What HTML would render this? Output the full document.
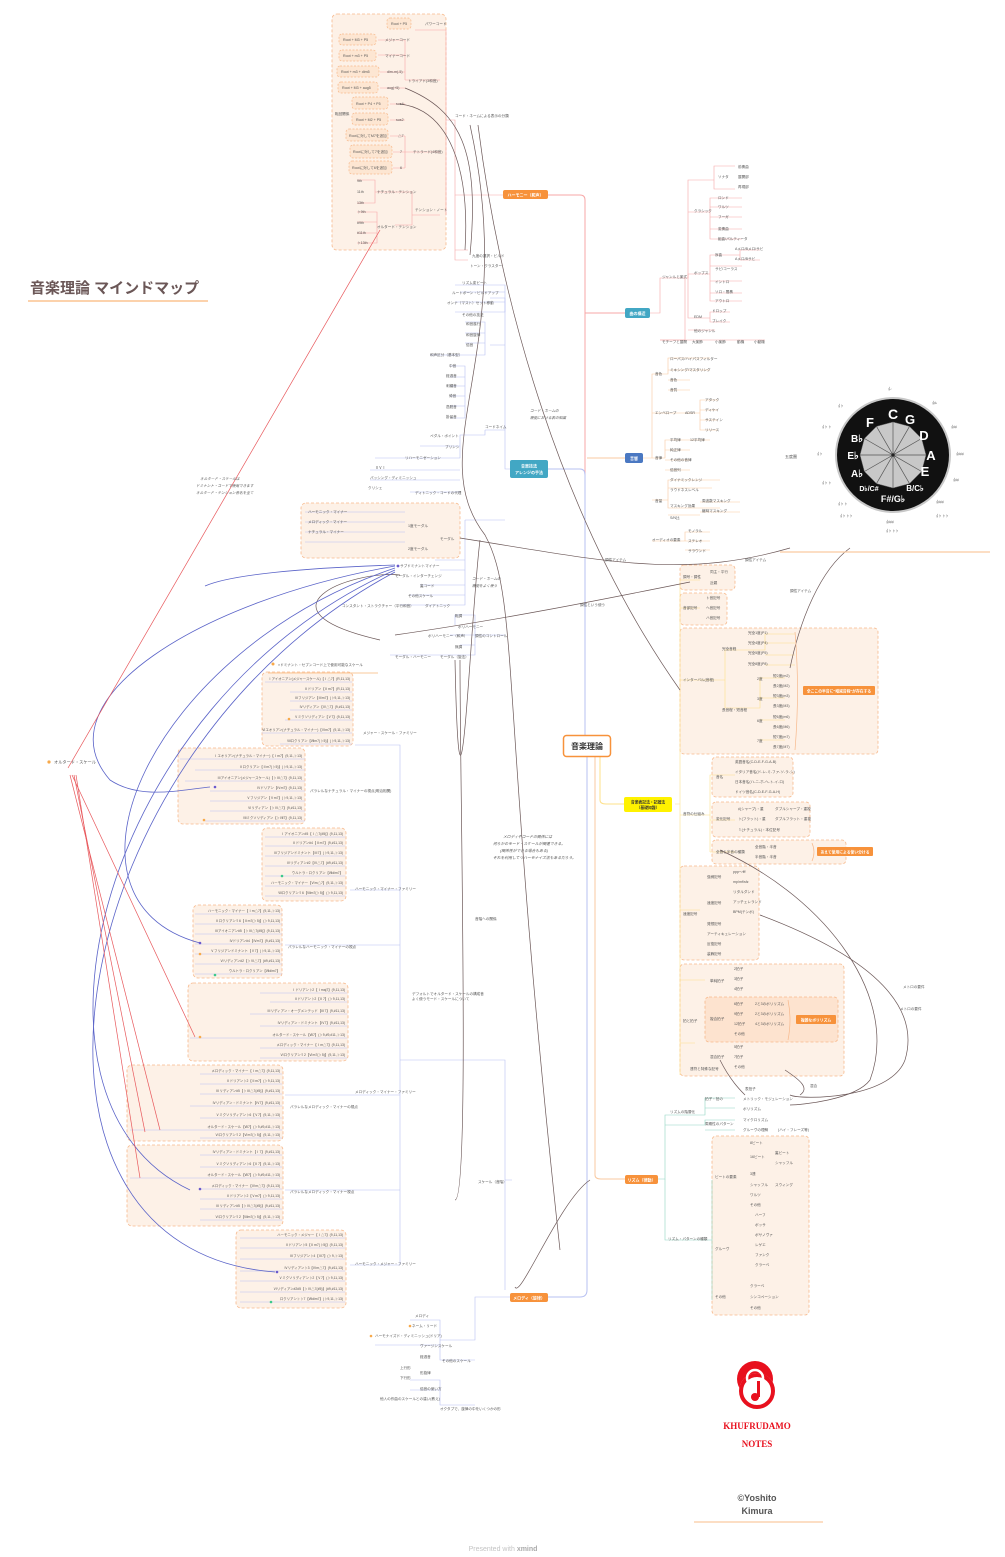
<!DOCTYPE html>
<html><head><meta charset="utf-8">
<style>
html,body{margin:0;padding:0;background:#fff;}
body{width:1005px;height:1557px;position:relative;overflow:hidden;font-family:"Liberation Sans","Noto Sans CJK JP",sans-serif;}
svg{position:absolute;left:0;top:0;}
.t{font-family:"Liberation Sans","Noto Sans CJK JP",sans-serif;font-size:3.6px;fill:#555;}
.r{font-family:"Liberation Sans","Noto Sans CJK JP",sans-serif;font-size:3.4px;fill:#555;text-anchor:end;}
</style></head><body>
<svg width="1005" height="1557" viewBox="0 0 1005 1557" xmlns="http://www.w3.org/2000/svg">
<g fill="#fdf1e7" stroke="#f7b98c" stroke-width="0.8" stroke-dasharray="3,2">
<rect x="332" y="14" width="114" height="236" rx="5"/>
<rect x="301" y="503" width="159" height="55" rx="5"/>
<rect x="262" y="672" width="91" height="74" rx="5"/>
<rect x="178" y="748" width="127" height="76" rx="5"/>
<rect x="262" y="828" width="84" height="73" rx="5"/>
<rect x="193" y="905" width="89" height="73" rx="5"/>
<rect x="188" y="983" width="160" height="78" rx="5"/>
<rect x="127" y="1065" width="156" height="76" rx="5"/>
<rect x="127" y="1145" width="156" height="81" rx="5"/>
<rect x="236" y="1230" width="110" height="78" rx="5"/>
<rect x="680" y="565" width="55" height="25" rx="4"/>
<rect x="680" y="593" width="47" height="32" rx="4"/>
<rect x="680" y="628" width="198" height="126" rx="4"/>
<rect x="712" y="757" width="81" height="40" rx="4"/>
<rect x="712" y="802" width="98" height="35" rx="4"/>
<rect x="712" y="840" width="134" height="24" rx="4"/>
<rect x="680" y="866" width="79" height="94" rx="4"/>
<rect x="680" y="964" width="164" height="112" rx="4"/>
<rect x="705" y="997" width="133" height="45" rx="4" fill="#fde3cf"/>
<rect x="712" y="1136" width="97" height="179" rx="4"/>
</g>
<g fill="#fde6d2" stroke="#f7b98c" stroke-width="0.7" stroke-dasharray="2,1.5">
<rect x="387" y="18" width="24" height="11" rx="3"/>
<rect x="339" y="34" width="37" height="11" rx="3"/>
<rect x="339" y="50" width="37" height="11" rx="3"/>
<rect x="337" y="66" width="42" height="11" rx="3"/>
<rect x="338" y="82" width="40" height="11" rx="3"/>
<rect x="352" y="97" width="36" height="12" rx="3"/>
<rect x="352" y="113" width="36" height="12" rx="3"/>
<rect x="346" y="129" width="42" height="12" rx="3"/>
<rect x="350" y="145" width="42" height="13" rx="3"/>
<rect x="349" y="161" width="43" height="13" rx="3"/>
</g>
<g fill="none" stroke-width="1">
<path d="M548,195 H580 Q585,195 585,200 V740" stroke="#f7a7a7"/>
<path d="M585,313 H625" stroke="#f7a7a7"/>
<path d="M587,458 H625" stroke="#f9c9a0"/>
<path d="M548,469 H580 Q585,469 585,475 V740" stroke="#b7c0f2"/>
<path d="M587,756 V1290 Q587,1297 580,1297 H548" stroke="#b7c0f2"/>
<path d="M600,756 V800 Q600,804 606,804 H624" stroke="#fde08a"/>
<path d="M595,756 V1175 Q595,1179 601,1179 H625" stroke="#f9c9a0"/>
</g>
<g fill="none" stroke="#f7a7a7" stroke-width="0.6">
<path d="M503,195 H455 V120 H446"/>
<path d="M446,120 V30 H415"/><path d="M446,120 V215"/>
<path d="M405,80 V40 H378 M405,55 H378 M405,72 H380 M405,88 H380 M405,80 H440"/>
<path d="M405,104 H390 M405,120 H390 M405,136 H390 M405,152 H393 M405,168 H393 M405,136 V168 M405,152 H440"/>
<path d="M412,215 H440 M412,215 V192 H385 M412,215 V225 H395"/>
<path d="M375,192 V180 H357 M375,192 V203 H357 M375,192 H385"/>
<path d="M377,226 V212 H357 M377,226 V243 H357 M357,222 H377 M357,233 H377"/>
<path d="M455,195 V260 H468 M455,250 H468"/>
</g>
<g fill="none" stroke="#f7a7a7" stroke-width="0.6">
<path d="M650,313 H660 V278 H685 V340 H660"/>
<path d="M685,278 H688 V212 H710 M688,212 V180 H714 V166 H735 M714,180 V189 H735 M714,180 V176"/>
<path d="M710,212 V198 H742 M710,212 V207 H742 M710,212 V217 H742 M710,212 V229 H742 M710,212 V239 H742"/>
<path d="M688,278 V274 H710 M710,274 V255 H740 M710,274 V266 H742 M710,274 V281 H742 M710,274 V293 H742 M710,274 V301 H742 M740,255 V250 H760 M740,255 V260 H760"/>
<path d="M688,278 V318 H710 V312 H730 M710,318 V322 H730 M688,330 H715"/>
<path d="M660,340 H765"/>
</g>
<g fill="none" stroke="#f9c9a0" stroke-width="0.6">
<path d="M643,458 H652 V374 H668 V358 H710 M668,370 H710 M668,380 H690 M668,390 H690"/>
<path d="M652,413 H700 M700,413 V400 H718 M700,413 V410 H718 M700,413 V420 H718 M700,413 V430 H718"/>
<path d="M652,458 H665 V440 H710 M665,450 H690 M665,460 H690 M665,470 H690"/>
<path d="M652,500 H668 V480 H720 M668,488 H712 M668,498 V508 H720 M668,515 H700 M700,502 H740 M700,512 H740"/>
<path d="M652,541 H685 V532 H710 M685,541 H710 M685,550 H710"/>
</g>
<g fill="none" stroke="#fde08a" stroke-width="0.6">
<path d="M675,804 H680 V580 H700 M680,608 H700 M680,680 H725 M680,804 V1075"/>
<path d="M680,815 H710 V775 H735 M710,820 H735 M710,852 H735 M710,775 V852"/>
<path d="M680,910 H700 M680,1043 H695 M680,980 H705"/>
<path d="M725,680 V650 H765 V634 H795 M765,643 H795 M765,655 H795 M765,665 H795"/>
<path d="M725,680 V708 H760 V678 H785 M760,698 H785 M760,720 H785 M760,740 H785"/>
</g>
<g fill="none" stroke="#8fd6c2" stroke-width="0.6">
<path d="M625,1179 H665 V1115 H705 V1098 H735 M705,1108 H735"/>
<path d="M665,1125 H705 V1120 H735 M705,1130 H735"/>
<path d="M665,1179 V1240 H712 M712,1180 V1300"/>
</g>
<g fill="none" stroke="#b7c0f2" stroke-width="0.6">
<path d="M510,469 H505 V298 H490 M505,345 H490 M505,430 H485 M505,520 H465 M505,635 H475"/>
<path d="M505,298 V285 H455 M505,298 V292 H460 M505,298 V302 H455 M505,298 V312 H455"/>
<path d="M485,345 V322 H465 M485,345 V333 H465 M485,345 V343 H465 M485,345 V355 H430"/>
<path d="M465,388 V366 H450 M465,388 V377 H450 M465,388 V386 H450 M465,388 V396 H450 M465,388 V406 H450 M465,388 V418 H450"/>
<path d="M485,430 V435 H460 V446 H420 M460,435 V458 H375 M460,470 H370 M460,480 H370 M460,492 H410"/>
<path d="M465,520 V560 H435 M465,520 V570 H440 M465,520 V585 H420 M465,520 V595 H410 M465,520 V605 H400"/>
<path d="M475,635 H450 M475,635 V615 H455 V625 H455 M475,635 V645 H460 M475,635 V655 H390"/>
<path d="M512,1180 H505 V1290 M505,1180 V1060 H400 V745 H355 M400,890 H350 M400,945 H285 M400,1095 H285 M400,1190 H285 M400,1265 H350 M400,1060 V1265"/>
<path d="M510,1297 H475 V1340 H440 M475,1360 H440 V1320 H410 M475,1405 H440 V1380 H410 M440,1345 H375 M440,1390 H410"/>
</g>
<g stroke="#b7c0f2" stroke-width="0.5">
<line x1="265" y1="682" x2="352" y2="682"/><line x1="290" y1="692" x2="352" y2="692"/><line x1="290" y1="701" x2="352" y2="701"/><line x1="290" y1="710" x2="352" y2="710"/><line x1="285" y1="720" x2="352" y2="720"/><line x1="262" y1="733" x2="352" y2="733"/><line x1="280" y1="744" x2="352" y2="744"/>
<line x1="180" y1="759" x2="305" y2="759"/><line x1="195" y1="770" x2="305" y2="770"/><line x1="185" y1="781" x2="305" y2="781"/><line x1="210" y1="791" x2="305" y2="791"/><line x1="210" y1="801" x2="305" y2="801"/><line x1="210" y1="811" x2="305" y2="811"/><line x1="205" y1="821" x2="305" y2="821"/>
<line x1="265" y1="837" x2="345" y2="837"/><line x1="265" y1="846" x2="345" y2="846"/><line x1="265" y1="856" x2="345" y2="856"/><line x1="265" y1="866" x2="345" y2="866"/><line x1="265" y1="876" x2="345" y2="876"/><line x1="265" y1="886" x2="345" y2="886"/><line x1="265" y1="896" x2="345" y2="896"/>
<line x1="195" y1="914" x2="282" y2="914"/><line x1="195" y1="924" x2="282" y2="924"/><line x1="195" y1="934" x2="282" y2="934"/><line x1="195" y1="944" x2="282" y2="944"/><line x1="195" y1="954" x2="282" y2="954"/><line x1="195" y1="964" x2="282" y2="964"/><line x1="195" y1="974" x2="282" y2="974"/>
<line x1="260" y1="993" x2="347" y2="993"/><line x1="270" y1="1002" x2="347" y2="1002"/><line x1="250" y1="1014" x2="347" y2="1014"/><line x1="260" y1="1026" x2="347" y2="1026"/><line x1="190" y1="1038" x2="347" y2="1038"/><line x1="260" y1="1048" x2="347" y2="1048"/><line x1="260" y1="1058" x2="347" y2="1058"/>
<line x1="200" y1="1074" x2="282" y2="1074"/><line x1="200" y1="1084" x2="282" y2="1084"/><line x1="200" y1="1094" x2="282" y2="1094"/><line x1="190" y1="1106" x2="282" y2="1106"/><line x1="200" y1="1118" x2="282" y2="1118"/><line x1="130" y1="1130" x2="282" y2="1130"/><line x1="200" y1="1138" x2="282" y2="1138"/>
<line x1="200" y1="1155" x2="282" y2="1155"/><line x1="200" y1="1167" x2="282" y2="1167"/><line x1="130" y1="1178" x2="282" y2="1178"/><line x1="200" y1="1189" x2="282" y2="1189"/><line x1="200" y1="1199" x2="282" y2="1199"/><line x1="200" y1="1209" x2="282" y2="1209"/><line x1="200" y1="1220" x2="282" y2="1220"/>
<line x1="240" y1="1238" x2="345" y2="1238"/><line x1="240" y1="1248" x2="345" y2="1248"/><line x1="240" y1="1259" x2="345" y2="1259"/><line x1="240" y1="1271" x2="345" y2="1271"/><line x1="240" y1="1281" x2="345" y2="1281"/><line x1="240" y1="1292" x2="345" y2="1292"/><line x1="240" y1="1302" x2="345" y2="1302"/>
<line x1="305" y1="512" x2="370" y2="512"/><line x1="305" y1="522" x2="370" y2="522"/><line x1="305" y1="532" x2="370" y2="532"/><line x1="305" y1="542" x2="370" y2="542"/><line x1="370" y1="512" x2="405" y2="512"/><line x1="370" y1="522" x2="405" y2="522"/><line x1="370" y1="532" x2="405" y2="532"/><line x1="370" y1="542" x2="405" y2="542"/>
</g>
<!-- left box row texts -->
<g class="r">
<text x="350" y="680">Ⅰアイオニアン(メジャースケール)【Ⅰ△7】(R,11,13)</text><text x="350" y="690">Ⅱドリアン【Ⅱm7】(R,11,13)</text><text x="350" y="699">Ⅲフリジアン【Ⅲm7】(♭9,11,♭13)</text><text x="350" y="708">Ⅳリディアン【Ⅳ△7】(9,#11,13)</text><text x="350" y="718">Ⅴミクソリディアン【Ⅴ7】(9,11,13)</text><text x="350" y="731">Ⅵエオリアン(ナチュラル・マイナー)【Ⅵm7】(9,11,♭13)</text><text x="350" y="742">Ⅶロクリアン【Ⅶm7(♭5)】(♭9,11,♭13)</text>
<text x="302" y="757">Ⅰエオリアン(ナチュラル・マイナー)【Ⅰm7】(9,11,♭13)</text><text x="302" y="768">Ⅱロクリアン【Ⅱm7(♭5)】(♭9,11,♭13)</text><text x="302" y="779">Ⅲアイオニアン(メジャースケール)【♭Ⅲ△7】(9,11,13)</text><text x="302" y="789">Ⅳドリアン【Ⅳm7】(9,11,13)</text><text x="302" y="799">Ⅴフリジアン【Ⅴm7】(♭9,11,♭13)</text><text x="302" y="809">Ⅵリディアン【♭Ⅵ△7】(9,#11,13)</text><text x="302" y="819">Ⅶミクソリディアン【♭Ⅶ7】(9,11,13)</text>
<text x="343" y="835">Ⅰアイオニアン#5【Ⅰ△7(#5)】(9,11,13)</text><text x="343" y="844">Ⅱドリアン#4【Ⅱm7】(9,#11,13)</text><text x="343" y="854">Ⅲフリジアンドミナント【Ⅲ7】(♭9,11,♭13)</text><text x="343" y="864">Ⅳリディアン#2【Ⅳ△7】(#9,#11,13)</text><text x="343" y="874">ウルトラ・ロクリアン【Ⅶdim7】</text><text x="343" y="884">ハーモニック・マイナー【Ⅵm△7】(9,11,♭13)</text><text x="343" y="894">Ⅶロクリアン♮6【Ⅶm7(♭5)】(♭9,11,13)</text>
<text x="280" y="912">ハーモニック・マイナー【Ⅰm△7】(9,11,♭13)</text><text x="280" y="922">Ⅱロクリアン♮6【Ⅱm7(♭5)】(♭9,11,13)</text><text x="280" y="932">Ⅲアイオニアン#5【♭Ⅲ△7(#5)】(9,11,13)</text><text x="280" y="942">Ⅳドリアン#4【Ⅳm7】(9,#11,13)</text><text x="280" y="952">Ⅴフリジアンドミナント【Ⅴ7】(♭9,11,♭13)</text><text x="280" y="962">Ⅵリディアン#2【♭Ⅵ△7】(#9,#11,13)</text><text x="280" y="972">ウルトラ・ロクリアン【Ⅶdim7】</text>
<text x="345" y="991">Ⅰドリアン♭2【Ⅰmaj7】(9,11,13)</text><text x="345" y="1000">Ⅱドリアン♭2【Ⅱ7】(♭9,11,13)</text><text x="345" y="1012">Ⅲリディアン・オーグメンテッド【Ⅲ7】(9,#11,13)</text><text x="345" y="1024">Ⅳリディアン・ドミナント【Ⅳ7】(9,#11,13)</text><text x="345" y="1036">オルタード・スケール【Ⅶ7】(♭9,#9,#11,♭13)</text><text x="345" y="1046">メロディック・マイナー【Ⅰm△7】(9,11,13)</text><text x="345" y="1056">Ⅵロクリアン♮2【Ⅵm7(♭5)】(9,11,♭13)</text>
<text x="280" y="1072">メロディック・マイナー【Ⅰm△7】(9,11,13)</text><text x="280" y="1082">Ⅱドリアン♭2【Ⅱm7】(♭9,11,13)</text><text x="280" y="1092">Ⅲリディアン#5【♭Ⅲ△7(#5)】(9,#11,13)</text><text x="280" y="1104">Ⅳリディアン・ドミナント【Ⅳ7】(9,#11,13)</text><text x="280" y="1116">Ⅴミクソリディアン♭6【Ⅴ7】(9,11,♭13)</text><text x="280" y="1128">オルタード・スケール【Ⅶ7】(♭9,#9,#11,♭13)</text><text x="280" y="1136">Ⅵロクリアン♮2【Ⅵm7(♭5)】(9,11,♭13)</text>
<text x="280" y="1153">Ⅳリディアン・ドミナント【Ⅰ7】(9,#11,13)</text><text x="280" y="1165">Ⅴミクソリディアン♭6【Ⅱ7】(9,11,♭13)</text><text x="280" y="1176">オルタード・スケール【Ⅶ7】(♭9,#9,#11,♭13)</text><text x="280" y="1187">メロディック・マイナー【Ⅳm△7】(9,11,13)</text><text x="280" y="1197">Ⅱドリアン♭2【Ⅴm7】(♭9,11,13)</text><text x="280" y="1207">Ⅲリディアン#5【♭Ⅵ△7(#5)】(9,#11,13)</text><text x="280" y="1218">Ⅵロクリアン♮2【Ⅶm7(♭5)】(9,11,♭13)</text>
<text x="343" y="1236">ハーモニック・メジャー【Ⅰ△7】(9,11,13)</text><text x="343" y="1246">Ⅱドリアン♭5【Ⅱm7(♭5)】(9,11,13)</text><text x="343" y="1257">Ⅲフリジアン♭4【Ⅲ7】(♭9,♭13)</text><text x="343" y="1269">Ⅳリディアン♭3【Ⅳm△7】(9,#11,13)</text><text x="343" y="1279">Ⅴミクソリディアン♭2【Ⅴ7】(♭9,11,13)</text><text x="343" y="1290">Ⅵリディアン#2#5【♭Ⅵ△7(#5)】(#9,#11,13)</text><text x="343" y="1300">ロクリアン♭♭7【Ⅶdim7】(♭9,11,♭13)</text>
</g>
<g fill="none" stroke="#6b5757" stroke-width="0.7">
<path d="M478,125 C500,300 560,520 680,690"/>
<path d="M470,125 C520,350 420,450 485,535 C520,600 500,700 560,1250"/>
<path d="M405,88 C460,110 480,150 470,255"/>
<path d="M400,104 C450,110 470,170 465,250"/>
<path d="M460,538 C600,560 680,580 790,548"/>
<path d="M395,635 C500,620 600,600 690,582"/>
<path d="M380,640 C250,610 350,570 400,575 M480,540 C470,620 460,900 455,660"/>
<path d="M790,668 C800,620 820,570 850,548"/>
<path d="M760,915 C880,960 920,1010 905,1060 C890,1100 800,1100 790,1095"/>
<path d="M720,850 C830,900 900,1000 870,1080 C855,1100 800,1105 790,1105"/>
<path d="M785,1070 C800,1080 810,1088 800,1095 M720,1060 C730,1080 740,1090 745,1095"/>
<path d="M590,1180 C560,1200 520,1300 515,1287 M460,660 C460,800 470,1200 455,1200"/>
</g>
<g fill="none" stroke="#5a63c8" stroke-width="0.8">
<path d="M395,566 C200,600 40,700 110,780 C140,800 180,790 210,787"/>
<path d="M395,568 C150,650 40,900 200,943"/>
<path d="M395,570 C100,700 0,1100 190,1190"/>
<path d="M395,572 C60,750 -20,1250 275,1272"/>
<path d="M395,565 C300,568 230,575 205,586"/>
</g>
<g fill="none" stroke="#e8585c" stroke-width="0.7">
<path d="M68,768 L380,230"/>
<path d="M72,775 L195,1037"/>
<path d="M74,775 L145,1132"/>
<path d="M76,775 L140,1178"/>
<path d="M70,775 L160,1130"/>
</g>
<rect x="503" y="190" width="45" height="9" rx="2" fill="#f7923b"/>
<text x="525.5" y="196.5" fill="#fff" text-anchor="middle" style="font-size:4px;font-weight:bold">ハーモニー（和声）</text>
<rect x="625" y="308" width="25" height="10" rx="2" fill="#42a7c4"/>
<text x="637.5" y="315" text-anchor="middle" fill="#fff" style="font-size:4px;font-weight:bold">曲の構造</text>
<rect x="625" y="453" width="18" height="10" rx="2" fill="#4a78c2"/>
<text x="634" y="460" text-anchor="middle" fill="#fff" style="font-size:4px;font-weight:bold">音響</text>
<rect x="510" y="460" width="38" height="18" rx="2" fill="#42a7c4"/>
<text x="529" y="467.5" text-anchor="middle" fill="#fff" style="font-size:4px;font-weight:bold">音楽技法</text>
<text x="529" y="474" text-anchor="middle" fill="#fff" style="font-size:4px;font-weight:bold">アレンジの手法</text>
<rect x="563.5" y="735.5" width="47" height="21" rx="3" fill="#fff" stroke="#f7923b" stroke-width="1.5"/>
<text x="587" y="749" text-anchor="middle" fill="#333" style="font-size:8px;font-weight:bold">音楽理論</text>
<rect x="624" y="797" width="48" height="15" rx="2" fill="#fff200"/>
<text x="648" y="803.5" text-anchor="middle" fill="#333" style="font-size:3.8px;font-weight:bold">音楽表記法・記譜法</text>
<text x="648" y="809" text-anchor="middle" fill="#333" style="font-size:3.8px;font-weight:bold">（基礎知識）</text>
<rect x="625" y="1175" width="33" height="9" rx="2" fill="#f7923b"/>
<text x="641.5" y="1181.5" text-anchor="middle" fill="#fff" style="font-size:4px;font-weight:bold">リズム（律動）</text>
<rect x="510" y="1293" width="38" height="9" rx="2" fill="#f7923b"/>
<text x="529" y="1299.5" text-anchor="middle" fill="#fff" style="font-size:4px;font-weight:bold">メロディ（旋律）</text>
<rect x="803" y="686" width="72" height="9" rx="1" fill="#f7923b"/>
<text x="839" y="692.5" text-anchor="middle" fill="#fff" style="font-size:3.8px;font-weight:bold">全ここの半音に"増減音程"が存在する</text>
<rect x="817" y="847" width="56" height="9" rx="1" fill="#f7923b"/>
<text x="845" y="853.5" text-anchor="middle" fill="#fff" style="font-size:3.8px;font-weight:bold">あえて使用による使い分ける</text>
<rect x="796" y="1015" width="40" height="9" rx="1" fill="#f7923b"/>
<text x="816" y="1021.5" text-anchor="middle" fill="#fff" style="font-size:3.8px;font-weight:bold">複雑なポリリズム</text>
<g fill="none" stroke="#f7b98c" stroke-width="0.7">
<path d="M795,632 Q800,690 795,750"/><path d="M812,843 Q816,852 812,861"/><path d="M788,1000 Q792,1020 788,1040"/>
</g>
<g class="t">
<text x="391" y="25">Root + P5</text><text x="425" y="25">パワーコード</text>
<text x="343" y="41">Root + M3 + P5</text><text x="385" y="41">メジャーコード</text>
<text x="343" y="57">Root + m3 + P5</text><text x="385" y="57">マイナーコード</text>
<text x="341" y="73">Root + m3 + dim5</text><text x="387" y="73">dim-m(-5)</text>
<text x="342" y="89">Root + M3 + aug5</text><text x="387" y="89">aug(+5)</text>
<text x="356" y="105">Root + P4 + P5</text><text x="396" y="105">sus4</text>
<text x="356" y="121">Root + M2 + P5</text><text x="396" y="121">sus2</text>
<text x="349" y="137">Rootに対してM7を追加</text><text x="398" y="137">△7</text>
<text x="353" y="153">Rootに対して7を追加</text><text x="400" y="153">7</text>
<text x="352" y="169">Rootに対して6を追加</text><text x="400" y="169">6</text>
<text x="408" y="82">トライアド(3和音)</text><text x="413" y="153">テトラード(4和音)</text>
<text x="455" y="117">コード・ネームによる表示の分類</text>
<text x="357" y="182">9th</text><text x="357" y="193">11th</text><text x="357" y="204">13th</text><text x="377" y="193">ナチュラル・テンション</text>
<text x="357" y="213">♭9th</text><text x="357" y="224">#9th</text><text x="357" y="234">#11th</text><text x="357" y="244">♭13th</text><text x="377" y="228">オルタード・テンション</text>
<text x="415" y="211">テンション・ノート</text>
<text x="472" y="257">九度の選択・ビルド</text><text x="470" y="267">トーン・クラスター</text>
<text x="335" y="115">転回関係</text>
</g>
<g class="t">
<text x="462" y="284">リズム変ビート</text><text x="452" y="294">ルートボーン・ビルドアップ</text><text x="447" y="304">オンナ（マスト）セット移動</text><text x="462" y="316">その他の技法</text>
<text x="466" y="325">和音進行</text><text x="466" y="336">和音旋律</text><text x="466" y="346">倍音</text>
<text x="430" y="356">和声区分（基本型）</text><text x="449" y="367">中音</text><text x="446" y="377">経過音</text><text x="446" y="387">刺繍音</text><text x="449" y="397">倚音</text><text x="446" y="408">逸脱音</text><text x="446" y="418">掛留音</text>
<text x="485" y="428">コードネイム</text><text x="430" y="437">ペダル・ポイント</text><text x="445" y="448">ブリンシ</text>
<text x="405" y="459">リハーモニゼーション</text><text x="375" y="469">ⅡⅤⅠ</text><text x="370" y="479">パッシング・ディミニッシュ</text><text x="368" y="489">クリシェ</text><text x="415" y="494">ディトニック・コードの代理</text>
<text x="308" y="513">ハーモニック・マイナー</text><text x="308" y="523">メロディック・マイナー</text><text x="308" y="533">ナチュラル・マイナー</text><text x="408" y="527">1度モーダル</text><text x="440" y="540">モーダル</text><text x="408" y="550">2度モーダル</text>
<text x="400" y="567">サブドミナントマイナー</text><text x="395" y="577">モーダル・インターチェンジ</text><text x="420" y="587">裏コード</text><text x="408" y="597">その他スケール</text><text x="342" y="607">コンスタント・ストラクチャー（平行和音）</text><text x="425" y="607">ダイアトニック</text>
<text x="455" y="617">転調</text><text x="458" y="628">ポリハーモニー</text><text x="428" y="637">ポリハーモニー（和声）</text><text x="475" y="637">調性のコントロール</text><text x="455" y="648">無調</text><text x="395" y="658">モーダル・ハーモニー</text><text x="440" y="658">モーダル（旋法）</text>
<text x="278" y="666">×ドミナント・セブンコード上で使用可能なスケール</text>
<text x="54" y="763.5" style="font-size:4.2px">オルタード・スケール</text>
<text x="363" y="734">メジャー・スケール・ファミリー</text><text x="310" y="792">パラレルなナチュラル・マイナーの視点(明治相関)</text>
<text x="355" y="890">ハーモニック・マイナー・ファミリー</text><text x="288" y="948">パラレルなハーモニック・マイナーの視点</text>
<text x="355" y="1093">メロディック・マイナー・ファミリー</text><text x="290" y="1108">パラレルなメロディック・マイナーの視点</text><text x="290" y="1193">パラレルなメロディック・マイナー視点</text><text x="355" y="1265">ハーモニック・メジャー・ファミリー</text>
<text x="412" y="995">デフォルトでオルタード・スケールの構成音</text><text x="412" y="1000">よく使うモード・スケールについて</text>
<text x="478" y="1183">スケール（音階）</text>
<text x="415" y="1317">メロディ</text><text x="412" y="1327">ネーム・リード</text><text x="375" y="1337">ハーモナイズド・ディミニッシュ(ドリア)</text><text x="420" y="1347">ヴァージンスケール</text><text x="420" y="1358">経過音</text><text x="442" y="1362">その他のスケール</text><text x="400" y="1369">上行形</text><text x="400" y="1379">下行形</text><text x="420" y="1374">形旋律</text><text x="420" y="1390">倍音の使い方</text><text x="380" y="1400">他人の作曲のスケールとの違い(教え)</text><text x="440" y="1410">オクタブで、旋律の中をいくつかの形</text>
<text x="503" y="838" style="font-size:3.8px;font-style:italic">メロディやコードの関係には</text><text x="493" y="845" style="font-size:3.8px;font-style:italic">何らかのモード・スケールが関連できる。</text><text x="500" y="852" style="font-size:3.8px;font-style:italic">(関係性ができる場合もある)</text><text x="493" y="859" style="font-size:3.8px;font-style:italic">それを利用してリハーモナイズ法もあるだろう。</text>
<text x="200" y="480" style="font-size:3.6px;font-style:italic">オルタード・スケールは</text><text x="196" y="487" style="font-size:3.6px;font-style:italic">ドミナント・コードで使用できます</text><text x="196" y="494" style="font-size:3.6px;font-style:italic">オルタード・テンション音名を全て</text>
<text x="530" y="412" style="font-size:3.6px;font-style:italic">コード・ネームの</text><text x="530" y="419" style="font-size:3.6px;font-style:italic">機能における表の知識</text>
<text x="472" y="580" style="font-size:3.6px;font-style:italic">コード・ネームの</text><text x="472" y="587" style="font-size:3.6px;font-style:italic">機能をよく使う</text>
<text x="580" y="606">調性という使う</text><text x="605" y="561">調性アイテム</text><text x="745" y="561">調性アイテム</text><text x="790" y="592">調性アイテム</text>
<text x="475" y="920">音階への関係</text><text x="903" y="988">メトロの要件</text><text x="900" y="1010">メトロの要件</text><text x="810" y="1087">混合</text>
</g>
<g class="t">
<text x="738" y="168">前奏曲</text><text x="738" y="178">展開部</text><text x="738" y="188">再現部</text><text x="718" y="178">ソナタ</text>
<text x="718" y="199">ロンド</text><text x="718" y="208">ワルツ</text><text x="718" y="218">フーガ</text><text x="718" y="230">変奏曲</text><text x="718" y="240">組曲/パルティータ</text>
<text x="694" y="212">クラシック</text><text x="662" y="278">ジャンルと楽式</text><text x="694" y="274">ポップス</text>
<text x="715" y="256">序曲</text><text x="735" y="250">Aメロ/Bメロ/サビ</text><text x="735" y="260">Aメロ/Bサビ</text><text x="715" y="270">サビ/コーラス</text><text x="715" y="283">イントロ</text><text x="715" y="293">ソロ・間奏</text><text x="715" y="302">アウトロ</text>
<text x="694" y="318">EDM</text><text x="712" y="312">ドロップ</text><text x="712" y="322">ブレイク</text><text x="694" y="332">他のジャンル</text>
<text x="662" y="343">モチーフと展開</text><text x="692" y="343">大楽節</text><text x="715" y="343">小楽節</text><text x="737" y="343">動機</text><text x="754" y="343">小動機</text>
<text x="655" y="375">音色</text><text x="670" y="360">ローパス/ハイパスフィルター</text><text x="670" y="371">ミキシング/マスタリング</text><text x="670" y="381">音色</text><text x="670" y="391">音質</text>
<text x="655" y="414">エンベロープ</text><text x="685" y="414">ADSR</text><text x="705" y="401">アタック</text><text x="705" y="411">ディケイ</text><text x="705" y="421">サステイン</text><text x="705" y="431">リリース</text>
<text x="655" y="459">音律</text><text x="670" y="441">平均律</text><text x="690" y="441">12平均律</text><text x="670" y="451">純正律</text><text x="670" y="461">その他の音律</text><text x="670" y="471">倍音列</text>
<text x="655" y="502">音量</text><text x="670" y="481">ダイナミックレンジ</text><text x="670" y="491">ラウドネスレベル</text><text x="670" y="507">マスキング効果</text><text x="702" y="502">周波数マスキング</text><text x="702" y="512">継時マスキング</text><text x="670" y="519">S/N比</text>
<text x="652" y="541">オーディオの要素</text><text x="688" y="532">モノラル</text><text x="688" y="542">ステレオ</text><text x="688" y="552">サラウンド</text>
<text x="785" y="458" style="font-size:4px">五度圏</text>
<text x="683" y="578">調号・調性</text><text x="710" y="573">同主・平行</text><text x="710" y="584">近親</text>
<text x="683" y="609">音部記号</text><text x="706" y="599">ト音記号</text><text x="706" y="609">ヘ音記号</text><text x="706" y="619">ハ音記号</text>
<text x="683" y="681">インターバル(音程)</text><text x="722" y="650">完全音程</text><text x="722" y="711">長音程・短音程</text>
<text x="748" y="634">完全1度(P1)</text><text x="748" y="644">完全4度(P4)</text><text x="748" y="654">完全5度(P5)</text><text x="748" y="665">完全8度(P8)</text>
<text x="757" y="680">2度</text><text x="757" y="700">3度</text><text x="757" y="722">6度</text><text x="757" y="742">7度</text>
<text x="773" y="677">短2度(m2)</text><text x="773" y="687">長2度(M2)</text><text x="773" y="697">短3度(m3)</text><text x="773" y="707">長3度(M3)</text><text x="773" y="718">短6度(m6)</text><text x="773" y="728">長6度(M6)</text><text x="773" y="738">短7度(m7)</text><text x="773" y="748">長7度(M7)</text>
<text x="716" y="778">音名</text><text x="735" y="763">英語音名(C-D-E-F-G-A-B)</text><text x="735" y="773">イタリア音名(ド-レ-ミ-ファ-ソ-ラ-シ)</text><text x="735" y="783">日本音名(ハ-ニ-ホ-ヘ-ト-イ-ロ)</text><text x="735" y="793">ドイツ音名(C-D-E-F-G-A-H)</text>
<text x="683" y="815">音符の仕組み</text><text x="716" y="820">変化記号</text><text x="738" y="810">♯(シャープ)・重</text><text x="775" y="810">ダブルシャープ・重複</text><text x="738" y="820">♭(フラット)・重</text><text x="775" y="820">ダブルフラット・重複</text><text x="738" y="831">♮(ナチュラル)・本位記号</text>
<text x="716" y="853">全音と半音の種類</text><text x="755" y="848">全音階・半音</text><text x="755" y="858">半音階・半音</text>
<text x="683" y="915">速度記号</text><text x="707" y="878">強弱記号</text><text x="707" y="904">速度記号</text><text x="733" y="873">ppp〜fff</text><text x="733" y="883">mp/mf/sfz</text><text x="733" y="893">リタルダンド</text><text x="733" y="903">アッチェレランド</text><text x="733" y="913">BPM(テンポ)</text><text x="707" y="925">発想記号</text><text x="707" y="935">アーティキュレーション</text><text x="707" y="945">反復記号</text><text x="707" y="955">装飾記号</text>
<text x="683" y="1022">拍と拍子</text><text x="710" y="982">単純拍子</text><text x="734" y="970">2拍子</text><text x="734" y="980">3拍子</text><text x="734" y="990">4拍子</text><text x="710" y="1020">複合拍子</text><text x="734" y="1005">6拍子</text><text x="734" y="1015">9拍子</text><text x="734" y="1025">12拍子</text><text x="734" y="1035">その他</text><text x="755" y="1005">2と3のポリリズム</text><text x="755" y="1015">2と3のポリリズム</text><text x="755" y="1025">4と3のポリリズム</text>
<text x="710" y="1058">混合拍子</text><text x="734" y="1048">5拍子</text><text x="734" y="1058">7拍子</text><text x="734" y="1068">その他</text><text x="690" y="1070">連符と特殊な記号</text>
<text x="745" y="1090">表拍子</text><text x="743" y="1100">メトリック・モジュレーション</text><text x="743" y="1110">ポリリズム</text><text x="670" y="1113">リズムの階層化</text><text x="705" y="1100">拍子・拍の</text>
<text x="705" y="1125">周期性のパターン</text><text x="743" y="1121">マイクロリズム</text><text x="743" y="1131">グルーヴの理解</text><text x="778" y="1131">(ハイ・フレーズ等)</text>
<text x="668" y="1240">リズム・パターンの種類</text><text x="715" y="1178">ビートの要素</text><text x="715" y="1250">グルーヴ</text><text x="715" y="1298">その他</text>
<text x="750" y="1144">8ビート</text><text x="750" y="1158">16ビート</text><text x="775" y="1154">裏ビート</text><text x="775" y="1164">シャッフル</text><text x="750" y="1175">3連</text><text x="750" y="1186">シャッフル</text><text x="775" y="1186">スウィング</text><text x="750" y="1196">ワルツ</text><text x="750" y="1206">その他</text>
<text x="755" y="1216">ハーフ</text><text x="755" y="1226">ボッサ</text><text x="755" y="1236">ボサノヴァ</text><text x="755" y="1246">レゲエ</text><text x="755" y="1256">ファンク</text><text x="755" y="1266">クラーベ</text><text x="750" y="1287">クラーベ</text><text x="750" y="1298">シンコペーション</text><text x="750" y="1309">その他</text>
</g>
<g fill="#f7a94a"><circle cx="49" cy="762" r="1.6"/><circle cx="273" cy="664" r="1.5"/><circle cx="289" cy="719" r="1.3"/><circle cx="204" cy="820" r="1.3"/><circle cx="200" cy="1037" r="1.3"/><circle cx="200" cy="954" r="1.3"/><circle cx="371" cy="1336" r="1.3"/><circle cx="410" cy="1326" r="1.3"/><circle cx="215" cy="975" r="1.3" fill="#3cc98a"/><circle cx="282" cy="876" r="1.3" fill="#3cc98a"/><circle cx="271" cy="1302" r="1.3" fill="#3cc98a"/><circle cx="215" cy="787" r="1.3" fill="#6a5acd"/><circle cx="200" cy="943" r="1.3" fill="#6a5acd"/><circle cx="200" cy="1189" r="1.3" fill="#6a5acd"/><circle cx="277" cy="1272" r="1.3" fill="#6a5acd"/><circle cx="398" cy="566" r="1.4" fill="#6a5acd"/></g>
<g transform="translate(893,455)">
<circle r="58" fill="#c8c8c8"/>
<circle r="56" fill="#111"/>
<polygon fill="#c8c8c8" stroke="#666" stroke-width="0.5" points="0,-33 16.5,-28.6 28.6,-16.5 33,0 28.6,16.5 16.5,28.6 0,33 -16.5,28.6 -28.6,16.5 -33,0 -28.6,-16.5 -16.5,-28.6"/>
<g stroke="#555" stroke-width="0.7">
<line x1="0" y1="-33" x2="0" y2="33"/><line x1="-33" y1="0" x2="33" y2="0"/><line x1="-16.5" y1="-28.6" x2="16.5" y2="28.6"/><line x1="16.5" y1="-28.6" x2="-16.5" y2="28.6"/><line x1="-28.6" y1="-16.5" x2="28.6" y2="16.5"/><line x1="28.6" y1="-16.5" x2="-28.6" y2="16.5"/>
</g>
<rect x="-1.5" y="-1.5" width="3" height="3" fill="#222"/>
<g fill="#fff" font-family="Liberation Sans, sans-serif" font-weight="bold" text-anchor="middle">
<text x="0" y="-36" font-size="14">C</text><text x="17" y="-31" font-size="13">G</text><text x="31" y="-15" font-size="13">D</text><text x="38" y="5" font-size="13">A</text><text x="32" y="21" font-size="13">E</text><text x="22" y="36" font-size="8">B/C♭</text><text x="0" y="47" font-size="9">F#/G♭</text><text x="-24" y="36" font-size="7">D♭/C#</text><text x="-36" y="22" font-size="10">A♭</text><text x="-40" y="4" font-size="10">E♭</text><text x="-36" y="-13" font-size="10">B♭</text><text x="-23" y="-28" font-size="13">F</text>
</g>
</g>
<g class="t" fill="#777"><text x="888" y="390">𝄞♩</text><text x="932" y="404">𝄞♯♩</text><text x="951" y="428">𝄞♯♯</text><text x="956" y="455">𝄞♯♯♯</text><text x="953" y="481">𝄞♯♯</text><text x="936" y="503">𝄞♯♯♯</text><text x="936" y="517">𝄞♭♭♭</text><text x="886" y="523">𝄞♯♯♯</text><text x="886" y="532">𝄞♭♭♭</text><text x="838" y="505">𝄞♭♭</text><text x="840" y="517">𝄞♭♭♭</text><text x="822" y="484">𝄞♭♭</text><text x="817" y="455">𝄞♭</text><text x="822" y="428">𝄞♭♭</text><text x="838" y="407">𝄞♭</text></g>
<line x1="780" y1="552" x2="990" y2="552" stroke="#f9c9a0" stroke-width="1.2"/>
<text x="30" y="293" fill="#6b5757" style="font-size:15px;font-weight:bold;font-family:'Liberation Sans','Noto Sans CJK JP',sans-serif">音楽理論 マインドマップ</text>
<line x1="28" y1="301" x2="208" y2="301" stroke="#f9b77a" stroke-width="1.2"/>
<line x1="268" y1="673" x2="378" y2="673" stroke="#f9b77a" stroke-width="0.8"/>
<!-- logo -->
<g transform="translate(755,1385)">
<circle cx="0" cy="-6" r="18" fill="#e8101e"/>
<circle cx="2" cy="6" r="18" fill="#fff"/>
<circle cx="2" cy="6" r="16" fill="none" stroke="#e8101e" stroke-width="4"/>
<circle cx="0" cy="-7" r="8" fill="none" stroke="#fff" stroke-width="2.5"/>
<rect x="2" y="-4" width="3" height="16" fill="#e8101e"/>
<circle cx="0" cy="12" r="4" fill="#e8101e"/>
</g>
<text x="757" y="1429" text-anchor="middle" fill="#e8101e" style="font-family:'Liberation Serif',serif;font-size:9px;font-weight:bold">KHUFRUDAMO</text>
<text x="757" y="1447" text-anchor="middle" fill="#e8101e" style="font-family:'Liberation Serif',serif;font-size:9px;font-weight:bold">NOTES</text>
<text x="757" y="1501" text-anchor="middle" fill="#555" style="font-size:9px;font-weight:bold">©Yoshito</text>
<text x="757" y="1514" text-anchor="middle" fill="#555" style="font-size:9px;font-weight:bold">Kimura</text>
<line x1="694" y1="1522" x2="823" y2="1522" stroke="#f9c9a0" stroke-width="1.2"/>
<text x="503" y="1551" text-anchor="middle" fill="#c4c4c4" style="font-size:7px">Presented with <tspan font-weight="bold" fill="#aaa">xmind</tspan></text>
</svg>
</body></html>
